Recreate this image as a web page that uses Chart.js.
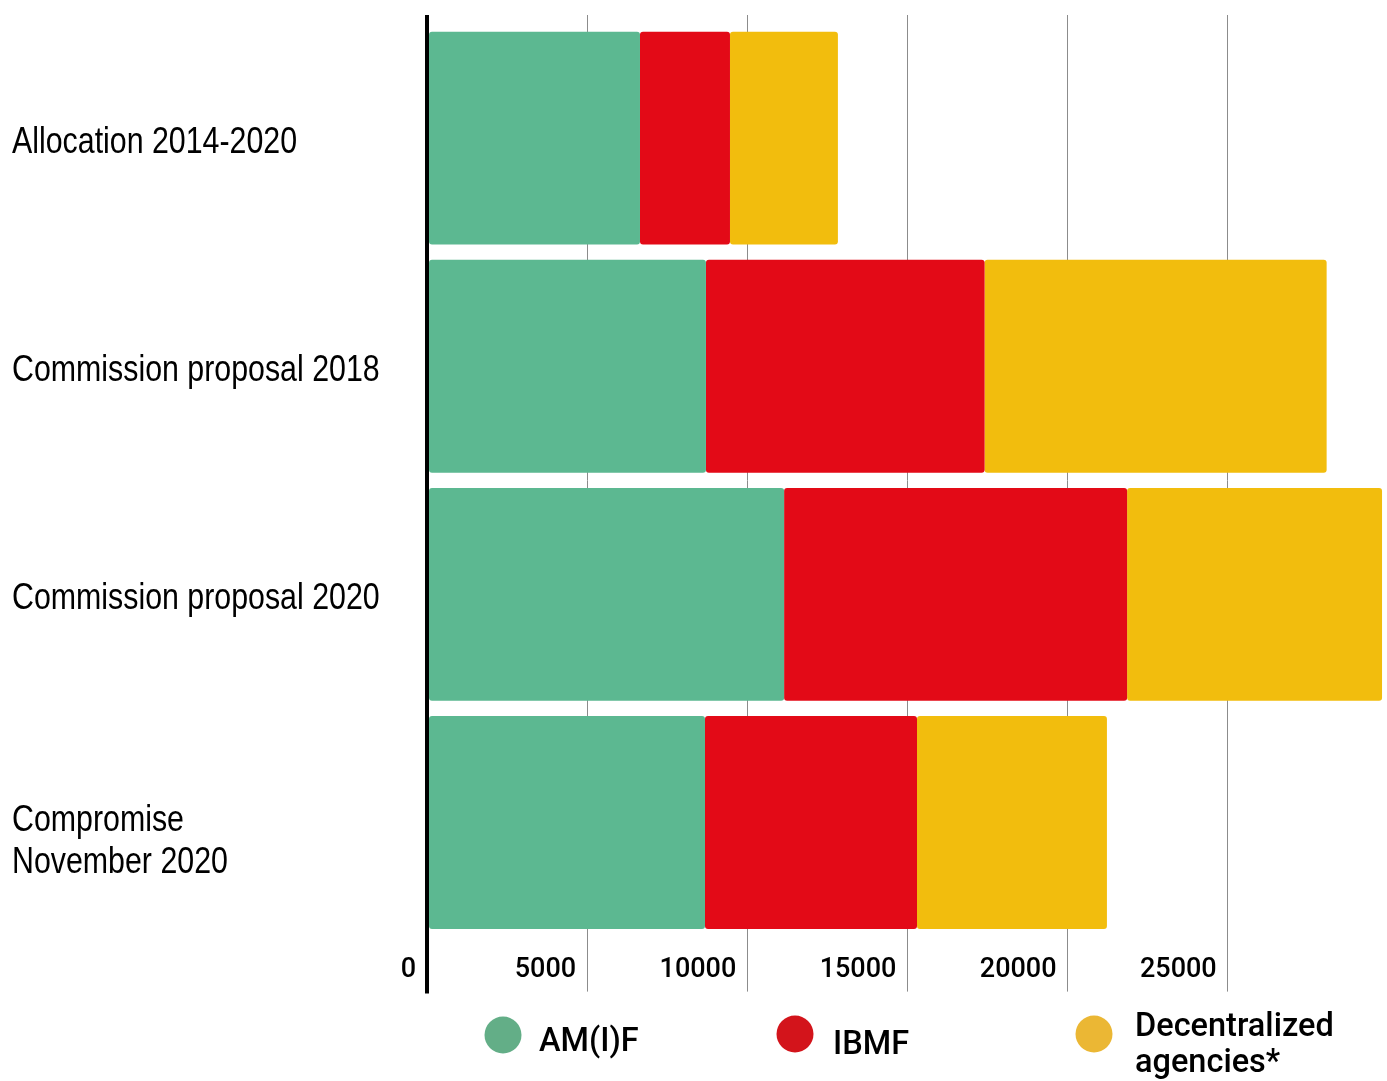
<!DOCTYPE html>
<html>
<head>
<meta charset="utf-8">
<script src="https://cdn.jsdelivr.net/npm/chart.js@4/dist/chart.umd.min.js"></script>
<style>
  body { margin: 0; background: #fff; }
</style>
</head>
<body>
<canvas id="budgetChart" width="1387" height="1081"></canvas>
<script>
// data
const categories = ['Allocation 2014-2020', 'Commission proposal 2018', 'Commission proposal 2020', ['Compromise', 'November 2020']];
const seriesNames = ['AM(I)F', 'IBMF', 'Decentralized agencies*'];
const amifValues = [6650, 8710, 11150, 8680];
const ibmfValues = [2810, 8700, 10710, 6620];
const agencyValues = [3370, 10680, 7960, 5930];
const xTickValues = [0, 5000, 10000, 15000, 20000, 25000];
const xTickLabels = ['0', '5000', '10000', '15000', '20000', '25000'];

const barColors = ['#5CB891', '#E30A17', '#F2BD0D'];
const legendColors = ['#63AE87', '#D3141B', '#EBB734'];

const corner = { topLeft: 3, topRight: 3, bottomLeft: 3, bottomRight: 3 };

function gridColor(c) {
  return c.tick && c.tick.value === 0 ? '#000' : '#8c8c8c';
}
function gridWidth(c) {
  return c.tick && c.tick.value === 0 ? 4 : 1;
}

// grid lines run a bit past the plot at top and bottom, category names are drawn narrow
const extras = {
  id: 'extras',
  beforeDatasetsDraw(chart) {
    const ctx = chart.ctx;
    const xs = chart.scales.x;
    const { top, bottom } = chart.chartArea;
    ctx.save();
    xs.ticks.forEach((t) => {
      const w = t.value === 0 ? 4 : 1;
      const hw = Math.max(w / 2, 0.5);
      const px = Math.round(xs.getPixelForValue(t.value) - hw) + hw;
      ctx.strokeStyle = t.value === 0 ? '#000' : '#8c8c8c';
      ctx.lineWidth = w;
      ctx.beginPath();
      ctx.moveTo(px, top - 9);
      ctx.lineTo(px, top + 1);
      ctx.moveTo(px, bottom - 1);
      ctx.lineTo(px, bottom + (t.value === 0 ? 57 : 55));
      ctx.stroke();
    });
    ctx.restore();
  },
  afterDraw(chart) {
    const ctx = chart.ctx;
    const ys = chart.scales.y;
    ctx.save();
    ctx.fillStyle = '#000';
    ctx.font = '37px "Liberation Sans", Arial, sans-serif';
    ctx.textBaseline = 'alphabetic';
    ctx.textAlign = 'left';
    categories.forEach((label, i) => {
      const lines = Array.isArray(label) ? label : [label];
      const y = ys.getPixelForValue(i);
      const shift = lines.length > 1 ? 16 : 1;
      const first = y + 13.5 + shift - (lines.length - 1) * 21;
      lines.forEach((line, j) => {
        ctx.save();
        ctx.translate(12, first + j * 42);
        ctx.scale(0.82, 1);
        ctx.fillText(line, 0, 0);
        ctx.restore();
      });
    });

    // legend at the bottom
    const items = [
      { cx: 503, cy: 1035, tx: 539, lines: [seriesNames[0]], base: 1051 },
      { cx: 795, cy: 1034, tx: 833, lines: [seriesNames[1]], base: 1054 },
      { cx: 1094, cy: 1034, tx: 1135, lines: ['Decentralized', 'agencies*'], base: 1036 }
    ];
    ctx.font = '500 32.5px Roboto, "Liberation Sans", sans-serif';
    items.forEach((it, i) => {
      ctx.fillStyle = legendColors[i];
      ctx.beginPath();
      ctx.arc(it.cx, it.cy, 18.5, 0, Math.PI * 2);
      ctx.fill();
      ctx.fillStyle = '#000';
      it.lines.forEach((t, j) => ctx.fillText(t, it.tx, it.base + j * 36));
    });
    ctx.restore();
  }
};

const data = {
  labels: categories,
  datasets: [
    { label: seriesNames[0], data: amifValues, backgroundColor: barColors[0] },
    { label: seriesNames[1], data: ibmfValues, backgroundColor: barColors[1] },
    { label: seriesNames[2], data: agencyValues, backgroundColor: barColors[2] }
  ].map(d => Object.assign(d, {
    borderWidth: 0,
    borderSkipped: false,
    borderRadius: corner,
    barPercentage: 0.933,
    categoryPercentage: 1
  }))
};

const config = {
  type: 'bar',
  data,
  options: {
    indexAxis: 'y',
    responsive: false,
    animation: false,
    layout: { padding: { left: 12, right: 4, top: 24, bottom: 78 } },
    plugins: {
      legend: { display: false },
      tooltip: { enabled: false }
    },
    scales: {
      x: {
        stacked: true,
        min: 0,
        max: 29850,
        border: { display: false },
        grid: { color: gridColor, lineWidth: gridWidth, drawTicks: false },
        afterBuildTicks: (scale) => { scale.ticks = xTickValues.map(v => ({ value: v })); },
        ticks: {
          autoSkip: false,
          maxRotation: 0,
          align: 'end',
          labelOffset: -11,
          padding: 17,
          color: '#000',
          font: { family: 'Roboto, "Liberation Sans", sans-serif', size: 27, weight: 500 },
          callback: (v, i) => xTickLabels[i]
        }
      },
      y: {
        stacked: true,
        border: { display: false },
        grid: { display: false },
        ticks: { display: false },
        afterFit: (scale) => { scale.width = 415; }
      }
    }
  },
  plugins: [extras]
};

const myChart = new Chart(document.getElementById('budgetChart').getContext('2d'), config);
</script>
</body>
</html>
